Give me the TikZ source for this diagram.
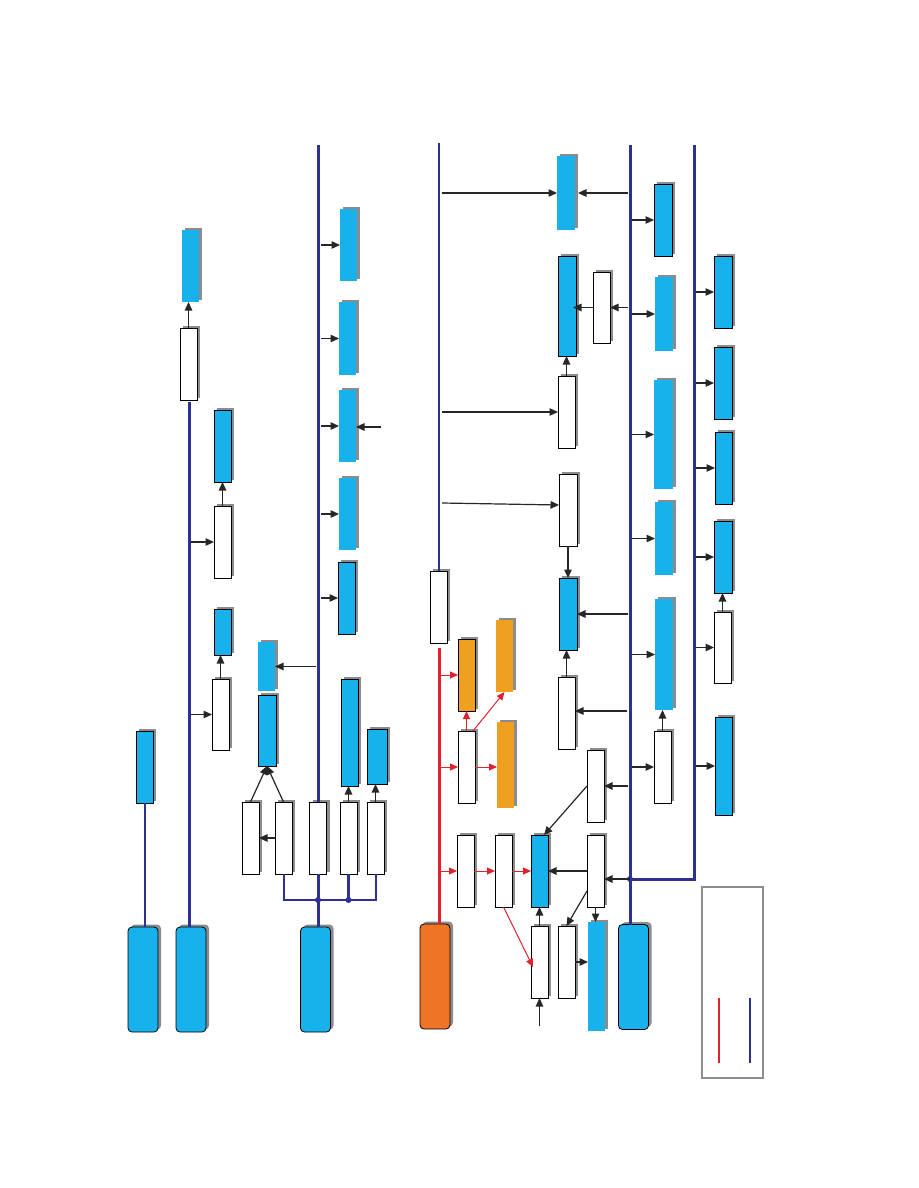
\documentclass[tikz,border=0pt]{standalone}
\usetikzlibrary{arrows.meta,shadows,calc}
\definecolor{cblue}{RGB}{23,177,235}
\definecolor{cnavy}{RGB}{46,49,146}
\definecolor{cred}{RGB}{226,32,46}
\definecolor{corange}{RGB}{238,116,38}
\definecolor{camber}{RGB}{240,160,32}
\definecolor{cgray}{RGB}{140,140,140}
\begin{document}
\begin{tikzpicture}[x=1pt,y=-1pt,
  box/.style={minimum width=17pt,minimum height=72pt,inner sep=0pt,outer sep=0pt,
    drop shadow={shadow xshift=3pt,shadow yshift=2.5pt,fill=cgray,opacity=1}},
  sz/.style 2 args={minimum width=#1pt,minimum height=#2pt},
  bb/.style={box,fill=cblue,draw=black,line width=0.8pt},
  bf/.style={box,fill=cblue},
  wbox/.style={box,fill=white,draw=black,line width=0.8pt},
  ob/.style={box,fill=camber,draw=black,line width=0.8pt},
  of/.style={box,fill=camber},
  rbox/.style={box,sz={30}{105},rounded corners=4pt,fill=cblue,draw=black,line width=0.8pt},
  navy/.style={cnavy,line width=3pt},
  navythin/.style={cnavy,line width=2pt},
  redline/.style={cred,line width=3pt},
  arr/.style={-{Triangle[length=8.5pt,width=7.5pt]},line width=1.2pt,black!85},
  rarr/.style={-{Triangle[length=8pt,width=7pt]},line width=1pt,cred},
  dot/.style={circle,fill=cnavy,inner sep=0pt,minimum size=6pt},
]
\useasboundingbox (0,0) rectangle (918,1188);

% ---------- rounded source boxes
\node[rbox] (r1) at (143,979.5) {};
\node[rbox] (r2) at (191,979.5) {};
\node[rbox] (r3) at (315.5,979.5) {};
\node[rbox,fill=corange] (r4) at (435,976.5) {};
\node[rbox] (r5) at (633.5,977) {};

% ---------- left columns
\node[bb] (n1) at (144.5,767) {};
\node[wbox] (w1) at (188.5,364) {};
\node[bf] (b1) at (190.5,266) {};
\node[wbox] (w2) at (222.5,542) {};
\node[bb] (b2) at (222.5,446) {};
\node[wbox,sz={17}{71}] (w3) at (220.5,714.5) {};
\node[bb,sz={17}{46}] (b3) at (222.5,632) {};

% ---------- column 319
\node[bf] (c1) at (348.5,245) {};
\node[bf,sz={17}{73}] (c2) at (347.5,338.5) {};
\node[bf] (c3) at (347.5,426) {};
\node[bf] (c4) at (347.5,514) {};
\node[bb] (c5) at (346.5,598) {};
\node[bf,sz={17}{49}] (c6) at (266.5,666.5) {};
\node[bb,sz={18}{71}] (c7) at (267,730.5) {};
\node[wbox] (wa) at (250.5,838) {};
\node[wbox] (wb) at (283.5,838) {};
\node[wbox] (wc) at (318,838) {};
\node[wbox] (wd) at (348.5,838) {};
\node[wbox] (we) at (375.5,838) {};
\node[bb,sz={17}{107}] (c8) at (349.5,732.5) {};
\node[bb,sz={20}{55}] (c9) at (377,756.5) {};

% ---------- column 439
\node[wbox] (x1) at (438.5,607) {};
\node[ob] (o1) at (466.5,675) {};
\node[of] (o2) at (504.5,656) {};
\node[of,sz={17}{86}] (o3) at (505.5,765) {};
\node[wbox] (y1) at (466.5,767) {};
\node[wbox] (y2) at (465.5,871) {};
\node[wbox] (y3) at (503.5,871) {};
\node[bb] (y4) at (539.5,871) {};
\node[wbox] (y5) at (539.5,962) {};
\node[wbox] (y6) at (566.5,962) {};
\node[bf,sz={17}{109}] (y7) at (596.5,976.5) {};
\node[wbox] (y8) at (595.5,871) {};
\node[wbox] (y9) at (595.5,786) {};

% ---------- column 557
\node[bf,sz={18}{74}] (d1) at (566,193) {};
\node[bb,sz={18}{100}] (d2) at (567,306) {};
\node[wbox,sz={17}{71}] (d3) at (601.5,307.5) {};
\node[wbox] (d4) at (566.5,412) {};
\node[wbox,sz={18}{72}] (d5) at (568,510) {};
\node[bb,sz={18}{72}] (d6) at (568,614) {};
\node[wbox] (d7) at (566.5,713) {};

% ---------- column 654
\node[bb,sz={18}{72}] (e1) at (663,220) {};
\node[bf,sz={18}{74}] (e2) at (664,314) {};
\node[bf,sz={19}{109}] (e3) at (663.5,434.5) {};
\node[bf,sz={18}{73}] (e4) at (664,538.5) {};
\node[bf,sz={18}{111}] (e5) at (664,654.5) {};
\node[wbox] (e6) at (662.5,767) {};

% ---------- column 714
\node[bb,sz={18}{72}] (f1) at (723,292) {};
\node[bb,sz={18}{72}] (f2) at (723,383) {};
\node[bb,sz={17}{72}] (f3) at (723.5,468) {};
\node[bb,sz={18}{72}] (f4) at (723,557) {};
\node[wbox,sz={17}{71}] (f5) at (722.5,647.5) {};
\node[bb,sz={17}{98}] (f6) at (723.5,766) {};

% ---------- legend
\node[draw=cgray,line width=2pt,minimum width=61pt,minimum height=191pt,inner sep=0pt] (leg) at (732.5,982.5) {};
\coordinate (lr1) at (719,998); \coordinate (lr2) at (719,1063);
\coordinate (lb1) at (750,998); \coordinate (lb2) at (750,1063);
\draw[cred,line width=2pt] (lr1) -- (lr2);
\draw[cnavy,line width=2pt] (lb1) -- (lb2);

% ---------- coordinates of lines
\coordinate (T189) at (189,402);
\coordinate (T319) at (318,145);
\coordinate (T439) at (439,143);
\coordinate (R439) at (439,648);
\coordinate (T630) at (630,145);
\coordinate (T694) at (694,145);
\coordinate (J) at (630,879);
\coordinate (J2) at (694,879);
\coordinate (S191) at (191,0);
\coordinate (S321) at (321,0);
\coordinate (S316) at (316,0);
\coordinate (S442) at (442,0);
\coordinate (S441) at (441,0);
\coordinate (S628) at (628,0);
\coordinate (S632) at (632,0);
\coordinate (S696) at (696,0);
\coordinate (c3in) at (381,427);
\coordinate (y5in) at (539.5,1026);
\coordinate (d5s) at (442,503);
\coordinate (d7s) at (627,711);
\coordinate (BUS) at (0,900);

% ---------- navy lines
\draw[navythin] (n1.south) -- (n1.south |- r1.north);
\draw[navy] (T189) -- (T189 |- r2.north);
\draw[navy] (T319) -- (T319 |- wc.north);
\draw[navy] (wc.south) -- (wc.south |- r3.north);
\draw[navythin] (wb.south) -- (wb.south |- BUS) -- (we.south |- BUS) -- (we.south);
\draw[navy] (wd.south) -- (wd.south |- BUS);
\node[dot] (dt1) at (wc.south |- BUS) {};
\node[dot] (dt2) at (wd.south |- BUS) {};
\draw[navythin] (T439) -- (T439 |- x1.north);
\draw[navy] (T630) -- (T630 |- r5.north);
\draw[navy] (T694) -- (J2) -- (J);
\node[dot] (dt3) at (J) {};

% ---------- red lines
\draw[redline] (R439) -- (R439 |- r4.north);
\draw[rarr] (S441 |- o1.west) -- (o1.west);
\draw[rarr] (S441 |- y1.west) -- (y1.west);
\draw[rarr] (S441 |- y2.west) -- (y2.west);
\draw[rarr] (y1.north) -- (o1.south);
\draw[rarr] ($(y1.north east)+(-2,0)$) -- (o2.south);
\draw[rarr] (y1.east) -- (y1.east -| o3.west);
\draw[rarr] (y2.east) -- (y3.west);
\draw[rarr] (y3.east) -- (y4.west);
\draw[rarr] (y3.south) -- ($(y5.west)+(2,5)$);

% ---------- left arrows
\draw[arr] (w1.north) -- (w1.north |- b1.south);
\draw[arr] (S191 |- w2.west) -- (w2.west);
\draw[arr] (S191 |- w3.west) -- (w3.west);
\draw[arr] (w2.north) -- (w2.north |- b2.south);
\draw[arr] (w3.north) -- (w3.north |- b3.south);

% ---------- column 319 arrows
\draw[arr] (S321 |- c1.west) -- (c1.west);
\draw[arr] (S321 |- c2.west) -- (c2.west);
\draw[arr] (S321 |- c3.west) -- (c3.west);
\draw[arr] (S321 |- c4.west) -- (c4.west);
\draw[arr] (S321 |- c5.west) -- (c5.west);
\draw[arr] (S316 |- c6.east) -- (c6.east);
\draw[arr] (c3in) -- (c3in -| c3.east);
\draw[arr] (wd.north) -- (wd.north |- c8.south);
\draw[arr] (we.north) -- (we.north |- c9.south);
\draw[arr] (wa.north) -- (c7.south);
\draw[arr] (wb.north) -- (c7.south);
\draw[arr] (wb.west) -- (wa.east);

% ---------- column 557 arrows
\draw[arr] (S442 |- d1.west) -- (d1.west);
\draw[arr] (S628 |- d1.east) -- ($(d1.east)+(3,0)$);
\draw[arr] (d3.west) -- ($(d3.west -| d2.east)+(-3,0)$);
\draw[arr] (S628 |- d3.east) -- (d3.east);
\draw[arr] (d4.north) -- (d4.north |- d2.south);
\draw[arr] (S442 |- d4.west) -- (d4.west);
\draw[arr] (d5s) -- ($(d5.west)+(0,-5)$);
\draw[arr] (d5.south) -- (d6.north);
\draw[arr] (S628 |- d6.east) -- (d6.east);
\draw[arr] (d7.north) -- (d7.north |- d6.south);
\draw[arr] (d7s) -- (d7s -| d7.east);

% ---------- column 654 arrows
\draw[arr] (S632 |- e1.west) -- (e1.west);
\draw[arr] (S632 |- e2.west) -- (e2.west);
\draw[arr] (S632 |- e3.west) -- (e3.west);
\draw[arr] (S632 |- e4.west) -- (e4.west);
\draw[arr] (S632 |- e5.west) -- (e5.west);
\draw[arr] (S632 |- e6.west) -- (e6.west);
\draw[arr] (e6.north) -- (e6.north |- e5.south);

% ---------- column 714 arrows
\draw[arr] (S696 |- f1.west) -- (f1.west);
\draw[arr] (S696 |- f2.west) -- (f2.west);
\draw[arr] (S696 |- f3.west) -- (f3.west);
\draw[arr] (S696 |- f4.west) -- (f4.west);
\draw[arr] (S696 |- f5.west) -- (f5.west);
\draw[arr] (S696 |- f6.west) -- (f6.west);
\draw[arr] (f5.north) -- (f5.north |- f4.south);

% ---------- lower middle arrows
\draw[arr] (y5.north) -- (y4.south);
\draw[arr] (y5in) -- (y5.south);
\draw[arr] (y6.east) -- (y6.east -| y7.west);
\draw[arr] (y8.west) -- (y8.west -| y4.east);
\draw[arr] (J) -- (J -| y8.east);
\draw[arr] ($(y8.south west)+(0,-16)$) -- (y6.north);
\draw[arr] (y8.south) -- (y8.south |- y7.north);
\draw[arr] (S628 |- y9.east) -- (y9.east);
\draw[arr] (y9.west) -- ($(y4.north east)+(-4,0)$);
\end{tikzpicture}
\end{document}
